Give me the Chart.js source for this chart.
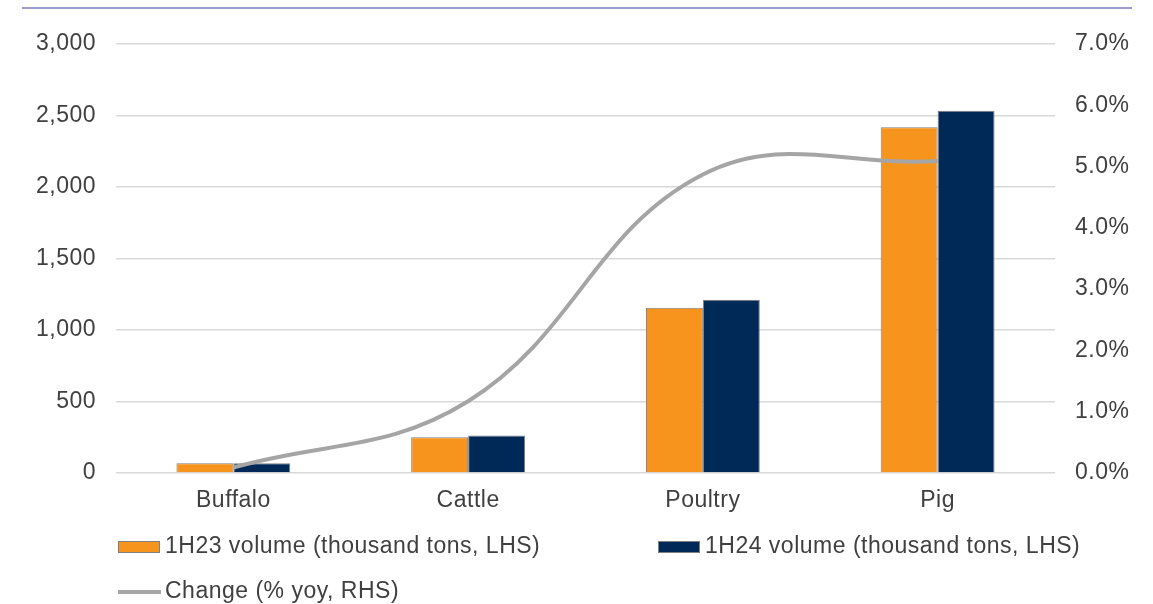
<!DOCTYPE html>
<html>
<head>
<meta charset="utf-8">
<script src="https://cdn.jsdelivr.net/npm/chart.js@4/dist/chart.umd.min.js"></script>
<style>
  html, body { margin: 0; padding: 0; background: #fff; }
  #wrap { position: relative; width: 1153px; height: 604px; }
  #rule { position: absolute; left: 22px; top: 7px; width: 1110px; height: 2px; background: #9a9ad0; }
  canvas { position: absolute; left: 0; top: 0; }
</style>
</head>
<body>
<div id="wrap">
  <canvas id="c" width="1153" height="604"></canvas>
  <div id="rule"></div>
</div>
<script>
// Meat output by type, first half of year
const categories = ['Buffalo', 'Cattle', 'Poultry', 'Pig'];
const volume1H23 = [68, 250, 1155, 2418];
const volume1H24 = [69, 262, 1212, 2534];
const changePct = [0.09, 1.17, 4.87, 5.09];

const leftTicks = [0, 500, 1000, 1500, 2000, 2500, 3000];
const rightTicks = [0, 1, 2, 3, 4, 5, 6, 7];

const labelNames = [
  '1H23 volume (thousand tons, LHS)',
  '1H24 volume (thousand tons, LHS)',
  'Change (% yoy, RHS)'
];

const FONT = '"Liberation Sans", Arial, sans-serif';
const FSIZE = 23;
const SPACING = '0.5px';
const TEXT = '#404040';
const ORANGE = '#f7941e';
const NAVY = '#002958';
const GREY = '#a5a5a5';

// Slightly open letter spacing for all chart text (context state is reset on resize)
const spacingPlugin = {
  id: 'textSpacing',
  beforeUpdate(chart) { chart.ctx.letterSpacing = SPACING; },
  beforeDraw(chart) { chart.ctx.letterSpacing = SPACING; }
};

// Legend laid out in two rows below the category labels
const legendPlugin = {
  id: 'bottomLegend',
  afterDraw(chart) {
    const ctx = chart.ctx;
    const ds = chart.data.datasets;
    const items = [
      { ds: ds[1], x: 118, y: 547, kind: 'box' },
      { ds: ds[2], x: 658, y: 547, kind: 'box' },
      { ds: ds[0], x: 118, y: 592, kind: 'line' }
    ];
    ctx.save();
    ctx.letterSpacing = SPACING;
    ctx.font = FSIZE + 'px ' + FONT;
    ctx.textBaseline = 'middle';
    ctx.textAlign = 'left';
    items.forEach(it => {
      if (it.kind === 'box') {
        ctx.fillStyle = it.ds.backgroundColor;
        ctx.fillRect(it.x, it.y - 6, 42, 12);
        ctx.strokeStyle = '#7f7f7f';
        ctx.lineWidth = 1;
        ctx.strokeRect(it.x + 0.5, it.y - 5.5, 41, 11);
      } else {
        ctx.strokeStyle = it.ds.borderColor;
        ctx.lineWidth = 4;
        ctx.beginPath();
        ctx.moveTo(it.x, it.y);
        ctx.lineTo(it.x + 43, it.y);
        ctx.stroke();
      }
      ctx.fillStyle = TEXT;
      ctx.fillText(it.ds.label, it.x + 47, it.y);
    });
    ctx.restore();
  }
};

new Chart(document.getElementById('c'), {
  data: {
    labels: categories,
    datasets: [
      {
        type: 'line',
        label: labelNames[2],
        data: changePct,
        yAxisID: 'yRight',
        borderColor: GREY,
        backgroundColor: GREY,
        borderWidth: 4,
        pointRadius: 0,
        tension: 0.4,
        fill: false,
        order: 0
      },
      {
        type: 'bar',
        label: labelNames[0],
        data: volume1H23,
        yAxisID: 'yLeft',
        backgroundColor: ORANGE,
        borderColor: '#7f7f7f',
        borderWidth: 1,
        barPercentage: 1,
        categoryPercentage: 0.485,
        order: 1
      },
      {
        type: 'bar',
        label: labelNames[1],
        data: volume1H24,
        yAxisID: 'yLeft',
        backgroundColor: NAVY,
        borderColor: '#7f7f7f',
        borderWidth: 1,
        barPercentage: 1,
        categoryPercentage: 0.485,
        order: 1
      }
    ]
  },
  options: {
    responsive: false,
    animation: false,
    layout: { padding: { top: 44, left: 0, right: 0, bottom: 0 } },
    plugins: {
      legend: { display: false },
      tooltip: { enabled: false }
    },
    scales: {
      x: {
        grid: { display: false, drawTicks: false },
        border: { display: false },
        ticks: { color: TEXT, font: { family: FONT, size: FSIZE }, padding: 14 },
        afterFit(s) { s.height = 131; }
      },
      yLeft: {
        position: 'left',
        min: 0, max: 3000,
        afterBuildTicks(s) { s.ticks = leftTicks.map(v => ({ value: v })); },
        grid: { color: '#d9d9d9', lineWidth: 1.5, drawTicks: false },
        border: { display: false },
        ticks: {
          color: TEXT,
          font: { family: FONT, size: FSIZE },
          padding: 20,
          callback: v => v.toLocaleString('en-US')
        },
        afterFit(s) { s.width = 116; }
      },
      yRight: {
        position: 'right',
        min: 0, max: 7,
        afterBuildTicks(s) { s.ticks = rightTicks.map(v => ({ value: v })); },
        grid: { display: false, drawTicks: false },
        border: { display: false },
        ticks: {
          color: TEXT,
          font: { family: FONT, size: FSIZE },
          padding: 20,
          callback: v => v.toFixed(1) + '%'
        },
        afterFit(s) { s.width = 98; }
      }
    }
  },
  plugins: [spacingPlugin, legendPlugin]
});
</script>
</body>
</html>
